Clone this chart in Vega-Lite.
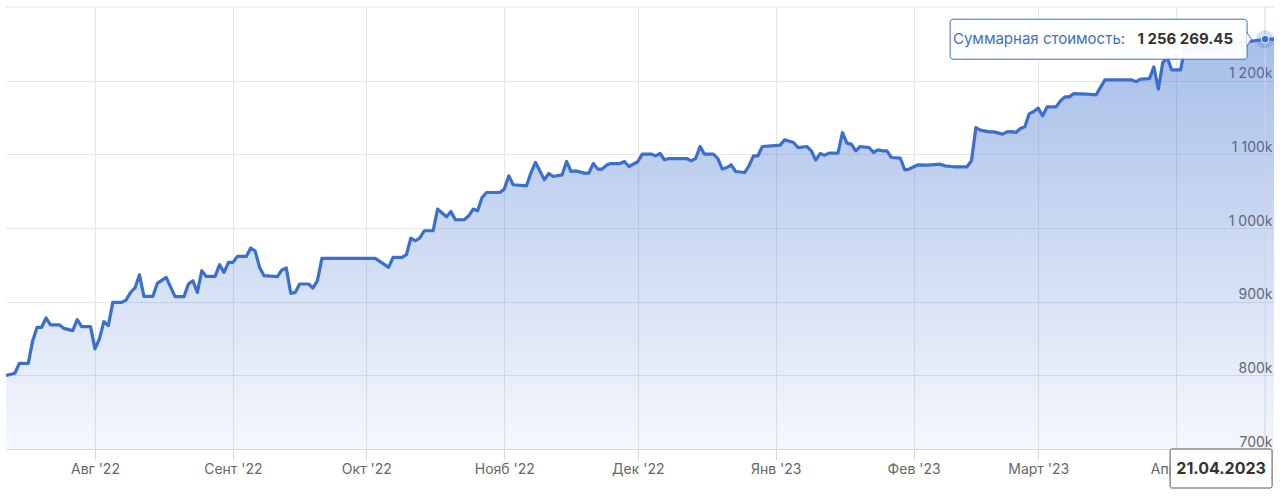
{
  "$schema": "https://vega.github.io/schema/vega-lite/v6.json",
  "width": 1268,
  "height": 442,
  "padding": {"left": 4, "top": 6, "right": 6, "bottom": 5},
  "background": "white",
  "config": {"view": {"stroke": null}, "font": "Inter"},
  "datasets": {
    "series": [
      {"date": "2022-07-12T00:00:00", "value": 799700},
      {"date": "2022-07-14T00:00:00", "value": 802800},
      {"date": "2022-07-15T00:00:00", "value": 816300},
      {"date": "2022-07-17T00:00:00", "value": 816300},
      {"date": "2022-07-18T00:00:00", "value": 847100},
      {"date": "2022-07-19T00:00:00", "value": 865200},
      {"date": "2022-07-20T00:00:00", "value": 865200},
      {"date": "2022-07-21T00:00:00", "value": 877900},
      {"date": "2022-07-22T00:00:00", "value": 868400},
      {"date": "2022-07-24T00:00:00", "value": 868400},
      {"date": "2022-07-25T00:00:00", "value": 863800},
      {"date": "2022-07-27T00:00:00", "value": 860700},
      {"date": "2022-07-28T00:00:00", "value": 875600},
      {"date": "2022-07-29T00:00:00", "value": 866100},
      {"date": "2022-07-31T00:00:00", "value": 866100},
      {"date": "2022-08-01T00:00:00", "value": 835900},
      {"date": "2022-08-02T00:00:00", "value": 849400},
      {"date": "2022-08-03T00:00:00", "value": 872900},
      {"date": "2022-08-04T00:00:00", "value": 867500},
      {"date": "2022-08-05T00:00:00", "value": 899100},
      {"date": "2022-08-07T00:00:00", "value": 899100},
      {"date": "2022-08-08T00:00:00", "value": 902300},
      {"date": "2022-08-09T00:00:00", "value": 912600},
      {"date": "2022-08-10T00:00:00", "value": 918600},
      {"date": "2022-08-11T00:00:00", "value": 936600},
      {"date": "2022-08-12T00:00:00", "value": 907200},
      {"date": "2022-08-14T00:00:00", "value": 907200},
      {"date": "2022-08-15T00:00:00", "value": 924800},
      {"date": "2022-08-17T00:00:00", "value": 933000},
      {"date": "2022-08-19T00:00:00", "value": 906800},
      {"date": "2022-08-21T00:00:00", "value": 906800},
      {"date": "2022-08-22T00:00:00", "value": 924000},
      {"date": "2022-08-23T00:00:00", "value": 928500},
      {"date": "2022-08-24T00:00:00", "value": 912600},
      {"date": "2022-08-25T00:00:00", "value": 942000},
      {"date": "2022-08-26T00:00:00", "value": 934300},
      {"date": "2022-08-28T00:00:00", "value": 934300},
      {"date": "2022-08-29T00:00:00", "value": 950200},
      {"date": "2022-08-30T00:00:00", "value": 939700},
      {"date": "2022-08-31T00:00:00", "value": 953300},
      {"date": "2022-09-01T00:00:00", "value": 953300},
      {"date": "2022-09-02T00:00:00", "value": 961400},
      {"date": "2022-09-04T00:00:00", "value": 961400},
      {"date": "2022-09-05T00:00:00", "value": 972800},
      {"date": "2022-09-06T00:00:00", "value": 968800},
      {"date": "2022-09-07T00:00:00", "value": 946500},
      {"date": "2022-09-08T00:00:00", "value": 935300},
      {"date": "2022-09-11T00:00:00", "value": 933900},
      {"date": "2022-09-12T00:00:00", "value": 943000},
      {"date": "2022-09-13T00:00:00", "value": 945700},
      {"date": "2022-09-14T00:00:00", "value": 911300},
      {"date": "2022-09-15T00:00:00", "value": 912600},
      {"date": "2022-09-16T00:00:00", "value": 924000},
      {"date": "2022-09-18T00:00:00", "value": 924000},
      {"date": "2022-09-19T00:00:00", "value": 918600},
      {"date": "2022-09-20T00:00:00", "value": 928500},
      {"date": "2022-09-21T00:00:00", "value": 958700},
      {"date": "2022-10-03T00:00:00", "value": 958700},
      {"date": "2022-10-04T00:00:00", "value": 954700},
      {"date": "2022-10-06T00:00:00", "value": 946500},
      {"date": "2022-10-07T00:00:00", "value": 960100},
      {"date": "2022-10-09T00:00:00", "value": 960100},
      {"date": "2022-10-10T00:00:00", "value": 963700},
      {"date": "2022-10-11T00:00:00", "value": 986400},
      {"date": "2022-10-12T00:00:00", "value": 982700},
      {"date": "2022-10-13T00:00:00", "value": 986400},
      {"date": "2022-10-14T00:00:00", "value": 996300},
      {"date": "2022-10-16T00:00:00", "value": 996300},
      {"date": "2022-10-17T00:00:00", "value": 1025700},
      {"date": "2022-10-19T00:00:00", "value": 1015300},
      {"date": "2022-10-20T00:00:00", "value": 1022500},
      {"date": "2022-10-21T00:00:00", "value": 1011200},
      {"date": "2022-10-23T00:00:00", "value": 1011200},
      {"date": "2022-10-24T00:00:00", "value": 1016600},
      {"date": "2022-10-25T00:00:00", "value": 1025700},
      {"date": "2022-10-26T00:00:00", "value": 1023400},
      {"date": "2022-10-27T00:00:00", "value": 1041400},
      {"date": "2022-10-28T00:00:00", "value": 1048200},
      {"date": "2022-10-31T00:00:00", "value": 1048200},
      {"date": "2022-11-01T00:00:00", "value": 1052800},
      {"date": "2022-11-02T00:00:00", "value": 1070900},
      {"date": "2022-11-03T00:00:00", "value": 1058700},
      {"date": "2022-11-06T00:00:00", "value": 1057300},
      {"date": "2022-11-07T00:00:00", "value": 1075300},
      {"date": "2022-11-08T00:00:00", "value": 1088900},
      {"date": "2022-11-09T00:00:00", "value": 1077600},
      {"date": "2022-11-10T00:00:00", "value": 1065400},
      {"date": "2022-11-11T00:00:00", "value": 1074000},
      {"date": "2022-11-12T00:00:00", "value": 1069900},
      {"date": "2022-11-14T00:00:00", "value": 1072200},
      {"date": "2022-11-15T00:00:00", "value": 1090300},
      {"date": "2022-11-16T00:00:00", "value": 1076700},
      {"date": "2022-11-17T00:00:00", "value": 1077600},
      {"date": "2022-11-19T00:00:00", "value": 1074500},
      {"date": "2022-11-20T00:00:00", "value": 1074500},
      {"date": "2022-11-21T00:00:00", "value": 1087500},
      {"date": "2022-11-22T00:00:00", "value": 1080000},
      {"date": "2022-11-23T00:00:00", "value": 1080000},
      {"date": "2022-11-24T00:00:00", "value": 1085400},
      {"date": "2022-11-25T00:00:00", "value": 1087500},
      {"date": "2022-11-27T00:00:00", "value": 1087500},
      {"date": "2022-11-28T00:00:00", "value": 1090300},
      {"date": "2022-11-29T00:00:00", "value": 1083500},
      {"date": "2022-12-01T00:00:00", "value": 1089900},
      {"date": "2022-12-02T00:00:00", "value": 1100300},
      {"date": "2022-12-04T00:00:00", "value": 1100300},
      {"date": "2022-12-05T00:00:00", "value": 1098000},
      {"date": "2022-12-06T00:00:00", "value": 1101100},
      {"date": "2022-12-07T00:00:00", "value": 1092600},
      {"date": "2022-12-08T00:00:00", "value": 1094300},
      {"date": "2022-12-12T00:00:00", "value": 1094300},
      {"date": "2022-12-13T00:00:00", "value": 1091200},
      {"date": "2022-12-14T00:00:00", "value": 1094300},
      {"date": "2022-12-15T00:00:00", "value": 1110600},
      {"date": "2022-12-16T00:00:00", "value": 1100300},
      {"date": "2022-12-18T00:00:00", "value": 1100300},
      {"date": "2022-12-19T00:00:00", "value": 1094300},
      {"date": "2022-12-20T00:00:00", "value": 1080000},
      {"date": "2022-12-21T00:00:00", "value": 1082100},
      {"date": "2022-12-22T00:00:00", "value": 1085800},
      {"date": "2022-12-23T00:00:00", "value": 1076700},
      {"date": "2022-12-25T00:00:00", "value": 1075300},
      {"date": "2022-12-26T00:00:00", "value": 1084400},
      {"date": "2022-12-27T00:00:00", "value": 1098000},
      {"date": "2022-12-28T00:00:00", "value": 1098000},
      {"date": "2022-12-29T00:00:00", "value": 1110600},
      {"date": "2022-12-31T00:00:00", "value": 1111500},
      {"date": "2023-01-02T00:00:00", "value": 1112500},
      {"date": "2023-01-03T00:00:00", "value": 1119700},
      {"date": "2023-01-05T00:00:00", "value": 1116000},
      {"date": "2023-01-06T00:00:00", "value": 1109200},
      {"date": "2023-01-08T00:00:00", "value": 1110600},
      {"date": "2023-01-09T00:00:00", "value": 1104800},
      {"date": "2023-01-10T00:00:00", "value": 1092200},
      {"date": "2023-01-11T00:00:00", "value": 1101100},
      {"date": "2023-01-12T00:00:00", "value": 1098900},
      {"date": "2023-01-13T00:00:00", "value": 1101600},
      {"date": "2023-01-15T00:00:00", "value": 1101600},
      {"date": "2023-01-16T00:00:00", "value": 1129600},
      {"date": "2023-01-17T00:00:00", "value": 1115200},
      {"date": "2023-01-18T00:00:00", "value": 1113900},
      {"date": "2023-01-19T00:00:00", "value": 1104800},
      {"date": "2023-01-20T00:00:00", "value": 1110600},
      {"date": "2023-01-22T00:00:00", "value": 1109200},
      {"date": "2023-01-23T00:00:00", "value": 1102500},
      {"date": "2023-01-24T00:00:00", "value": 1106100},
      {"date": "2023-01-25T00:00:00", "value": 1104800},
      {"date": "2023-01-26T00:00:00", "value": 1104800},
      {"date": "2023-01-27T00:00:00", "value": 1095700},
      {"date": "2023-01-29T00:00:00", "value": 1094900},
      {"date": "2023-01-30T00:00:00", "value": 1079000},
      {"date": "2023-01-31T00:00:00", "value": 1080000},
      {"date": "2023-02-02T00:00:00", "value": 1085800},
      {"date": "2023-02-04T00:00:00", "value": 1085400},
      {"date": "2023-02-05T00:00:00", "value": 1085800},
      {"date": "2023-02-07T00:00:00", "value": 1086700},
      {"date": "2023-02-08T00:00:00", "value": 1084400},
      {"date": "2023-02-10T00:00:00", "value": 1083100},
      {"date": "2023-02-13T00:00:00", "value": 1083100},
      {"date": "2023-02-14T00:00:00", "value": 1091200},
      {"date": "2023-02-15T00:00:00", "value": 1136400},
      {"date": "2023-02-16T00:00:00", "value": 1132800},
      {"date": "2023-02-18T00:00:00", "value": 1130500},
      {"date": "2023-02-19T00:00:00", "value": 1130500},
      {"date": "2023-02-21T00:00:00", "value": 1127400},
      {"date": "2023-02-22T00:00:00", "value": 1130500},
      {"date": "2023-02-23T00:00:00", "value": 1130900},
      {"date": "2023-02-24T00:00:00", "value": 1129600},
      {"date": "2023-02-25T00:00:00", "value": 1135000},
      {"date": "2023-02-26T00:00:00", "value": 1137300},
      {"date": "2023-02-27T00:00:00", "value": 1155300},
      {"date": "2023-02-28T00:00:00", "value": 1158100},
      {"date": "2023-03-01T00:00:00", "value": 1162700},
      {"date": "2023-03-02T00:00:00", "value": 1152200},
      {"date": "2023-03-03T00:00:00", "value": 1164400},
      {"date": "2023-03-05T00:00:00", "value": 1164400},
      {"date": "2023-03-06T00:00:00", "value": 1172600},
      {"date": "2023-03-07T00:00:00", "value": 1178000},
      {"date": "2023-03-08T00:00:00", "value": 1178000},
      {"date": "2023-03-09T00:00:00", "value": 1182500},
      {"date": "2023-03-12T00:00:00", "value": 1181700},
      {"date": "2023-03-14T00:00:00", "value": 1180700},
      {"date": "2023-03-16T00:00:00", "value": 1201000},
      {"date": "2023-03-22T00:00:00", "value": 1201000},
      {"date": "2023-03-23T00:00:00", "value": 1198700},
      {"date": "2023-03-24T00:00:00", "value": 1202000},
      {"date": "2023-03-26T00:00:00", "value": 1202800},
      {"date": "2023-03-27T00:00:00", "value": 1218700},
      {"date": "2023-03-28T00:00:00", "value": 1188400},
      {"date": "2023-03-29T00:00:00", "value": 1224500},
      {"date": "2023-03-30T00:00:00", "value": 1231300},
      {"date": "2023-03-31T00:00:00", "value": 1214600},
      {"date": "2023-04-02T00:00:00", "value": 1214600},
      {"date": "2023-04-03T00:00:00", "value": 1244800},
      {"date": "2023-04-04T00:00:00", "value": 1240000},
      {"date": "2023-04-06T00:00:00", "value": 1246000},
      {"date": "2023-04-10T00:00:00", "value": 1243000},
      {"date": "2023-04-13T00:00:00", "value": 1250000},
      {"date": "2023-04-17T00:00:00", "value": 1253000},
      {"date": "2023-04-19T00:00:00", "value": 1254500},
      {"date": "2023-04-21T00:00:00", "value": 1256269.45},
      {"date": "2023-04-22T00:00:00", "value": 1256269.45},
      {"date": "2023-04-23T00:00:00", "value": 1256269.45}
    ],
    "hover": [
      {"date": "2023-04-21T00:00:00", "value": 1256269.45, "label": "Суммарная стоимость:", "amount": "1 256 269.45", "day": "21.04.2023", "base": 700000}
    ],
    "topline": [
      {"level": 1300000}
    ]
  },
  "encoding": {
    "x": {
      "field": "date", "type": "temporal",
      "scale": {"domain": [{"year": 2022, "month": 7, "date": 12}, {"year": 2023, "month": 4, "date": 23}], "nice": false},
      "axis": {
        "title": null, "grid": true, "gridColor": "#e6e6e6", "domainColor": "#ccd6eb", "tickColor": "#ccd6eb",
        "tickSize": 10, "labelPadding": 3, "labelFontSize": 14, "labelColor": "#666666", "labelFlush": false, "labelOverlap": false,
        "tickCount": {"interval": "month", "step": 1},
        "labelExpr": "['Янв','Фев','Март','Апр','Май','Июнь','Июль','Авг','Сент','Окт','Нояб','Дек'][month(datum.value)] + \" '\" + timeFormat(datum.value, '%y')"
      }
    },
    "y": {
      "field": "value", "type": "quantitative",
      "scale": {"domain": [700000, 1300000], "zero": false, "nice": false},
      "axis": {
        "title": null, "orient": "right", "grid": true, "gridColor": "#e6e6e6", "domain": false, "ticks": false, "tickSize": 0,
        "values": [700000, 800000, 900000, 1000000, 1100000, 1200000],
        "labelAlign": "right", "labelPadding": -2, "labelBaseline": "alphabetic", "labelOffset": -3,
        "labelFontSize": 14, "labelColor": "#666666", "labelFlush": false, "labelOverlap": false,
        "labelExpr": "datum.value >= 1000000 ? floor(datum.value/1000000) + ' ' + format((datum.value % 1000000)/1000, '03d') + 'k' : format(datum.value/1000, 'd') + 'k'"
      }
    }
  },
  "layer": [
    {
      "data": {"name": "topline"},
      "mark": {"type": "rule", "color": "#e6e6e6", "strokeWidth": 1},
      "encoding": {"x": null, "y": {"field": "level", "type": "quantitative"}}
    },
    {
      "data": {"name": "series"},
      "mark": {"type": "area", "line": false,
        "color": {"gradient": "linear", "x1": 0, "y1": 0, "x2": 0, "y2": 1,
          "stops": [{"offset": 0, "color": "rgba(59,111,206,0.45)"}, {"offset": 1, "color": "rgba(59,111,206,0.05)"}]}},
      "encoding": {"y2": {"datum": 700000}}
    },
    {
      "data": {"name": "hover"},
      "mark": {"type": "rule", "color": "#cdd3e0", "strokeWidth": 1},
      "encoding": {"y": null}
    },
    {
      "data": {"name": "series"},
      "mark": {"type": "line", "color": "#3b6fce", "strokeWidth": 3.2, "strokeJoin": "round", "strokeCap": "butt"}
    },
    {
      "data": {"name": "hover"},
      "mark": {"type": "point", "filled": true, "size": 330, "color": "#3b6fce", "opacity": 0.22}
    },
    {
      "data": {"name": "hover"},
      "mark": {"type": "point", "filled": true, "size": 60, "color": "#3b6fce", "opacity": 1, "stroke": "white", "strokeWidth": 1}
    },
    {
      "data": {"name": "hover"},
      "mark": {"type": "rect", "fill": "white", "fillOpacity": 0.94, "stroke": "#3b6fce", "strokeWidth": 1, "cornerRadius": 3,
        "xOffset": -315, "x2Offset": -18, "yOffset": -20, "y2Offset": 20},
      "encoding": {"x2": {"field": "date"}, "y2": {"field": "value"}}
    },
    {
      "data": {"name": "hover"},
      "mark": {"type": "point", "shape": "M0,-1L0.7,0L0,1", "filled": true, "fill": "white", "stroke": "#3b6fce", "strokeWidth": 1, "opacity": 1, "size": 196, "xOffset": -18.5}
    },
    {
      "data": {"name": "hover"},
      "mark": {"type": "text", "align": "right", "baseline": "middle", "dx": -140, "fontSize": 15, "color": "#3b6fce"},
      "encoding": {"text": {"field": "label"}}
    },
    {
      "data": {"name": "hover"},
      "mark": {"type": "text", "align": "right", "baseline": "middle", "dx": -32, "fontSize": 15, "fontWeight": "bold", "color": "#333333"},
      "encoding": {"text": {"field": "amount"}}
    },
    {
      "data": {"name": "hover"},
      "mark": {"type": "rect", "fill": "white", "stroke": "#555555", "strokeWidth": 1, "cornerRadius": 2,
        "xOffset": -95, "x2Offset": 7, "yOffset": 0, "y2Offset": 39},
      "encoding": {"x2": {"field": "date"}, "y": {"field": "base", "type": "quantitative"}, "y2": {"field": "base"}}
    },
    {
      "data": {"name": "hover"},
      "mark": {"type": "text", "align": "center", "baseline": "middle", "dx": -44, "dy": 19.5, "fontSize": 16, "fontWeight": "bold", "color": "#333333"},
      "encoding": {"text": {"field": "day"}, "y": {"field": "base", "type": "quantitative"}}
    }
  ]
}
